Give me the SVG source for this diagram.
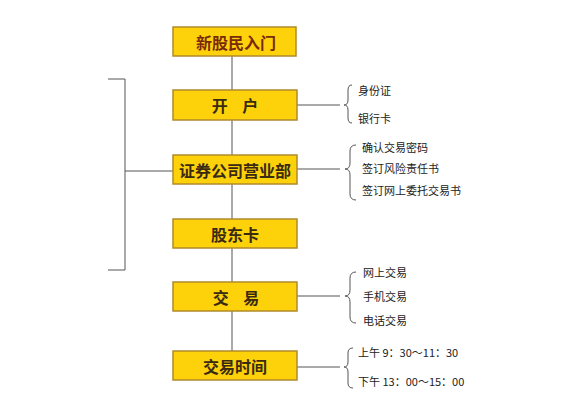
<svg xmlns="http://www.w3.org/2000/svg" width="571" height="406" viewBox="0 0 571 406">
<style>
.box{fill:#FDD20A;stroke:#B08A2A;stroke-width:1.5}
.bt{font-family:"Noto Sans CJK SC","Noto Sans",sans-serif;font-size:16px;font-weight:bold;fill:#3A2A12;text-anchor:middle;dominant-baseline:central}
.st{font-family:"Noto Sans CJK SC","Liberation Sans",sans-serif;font-size:11px;fill:#222;dominant-baseline:central}
.ln{fill:none;stroke:#555;stroke-width:1}
</style>
<rect width="571" height="406" fill="#fff"/>
<g id="connectors">
<line class="ln" x1="232" y1="56" x2="232" y2="351"/>
<path class="ln" d="M108,79 H125 V270 H108 M125,171 H173"/>
<line class="ln" x1="297" y1="105" x2="340" y2="105"/>
<path class="ln" d="M352,85 Q348,85 348,90 V100 Q348,105 344,105 Q348,105 348,110 V118 Q348,123 352,123"/>
<line class="ln" x1="297" y1="169" x2="340" y2="169"/>
<path class="ln" d="M356,145 Q350,145 350,151 V163 Q350,169 345,169 Q350,169 350,175 V194 Q350,200 356,200"/>
<line class="ln" x1="297" y1="296" x2="340" y2="296"/>
<path class="ln" d="M356,272 Q350,272 350,278 V290 Q350,296 345,296 Q350,296 350,302 V317 Q350,323 356,323"/>
<line class="ln" x1="297" y1="367" x2="340" y2="367"/>
<path class="ln" d="M353,348 Q348,348 348,353 V362 Q348,367 344,367 Q348,367 348,372 V383 Q348,388 353,388"/>
</g>
<g id="n1"><rect class="box" x="173" y="27" width="123" height="29"/><text class="bt" x="236" y="42" style="fill:#7A2A0A">新股民入门</text></g>
<g id="n2"><rect class="box" x="173" y="90" width="124" height="30"/><text class="bt" x="235" y="105" xml:space="preserve">开    户</text></g>
<g id="n3"><rect class="box" x="173" y="155" width="124" height="29"/><text class="bt" x="235" y="170">证券公司营业部</text></g>
<g id="n4"><rect class="box" x="173" y="219" width="124" height="29"/><text class="bt" x="235" y="234">股东卡</text></g>
<g id="n5"><rect class="box" x="173" y="282" width="124" height="29"/><text class="bt" x="236" y="297" xml:space="preserve">交    易</text></g>
<g id="n6"><rect class="box" x="173" y="351" width="124" height="29"/><text class="bt" x="235" y="366">交易时间</text></g>
<g id="labels">
<text class="st" x="358" y="90">身份证</text>
<text class="st" x="358" y="118">银行卡</text>
<text class="st" x="362" y="147">确认交易密码</text>
<text class="st" x="362" y="168">签订风险责任书</text>
<text class="st" x="362" y="190">签订网上委托交易书</text>
<text class="st" x="363" y="272">网上交易</text>
<text class="st" x="363" y="296">手机交易</text>
<text class="st" x="363" y="320">电话交易</text>
<text class="st" x="358" y="352">上午 9：30～11：30</text>
<text class="st" x="358" y="381">下午 13：00～15：00</text>
</g>
</svg>
